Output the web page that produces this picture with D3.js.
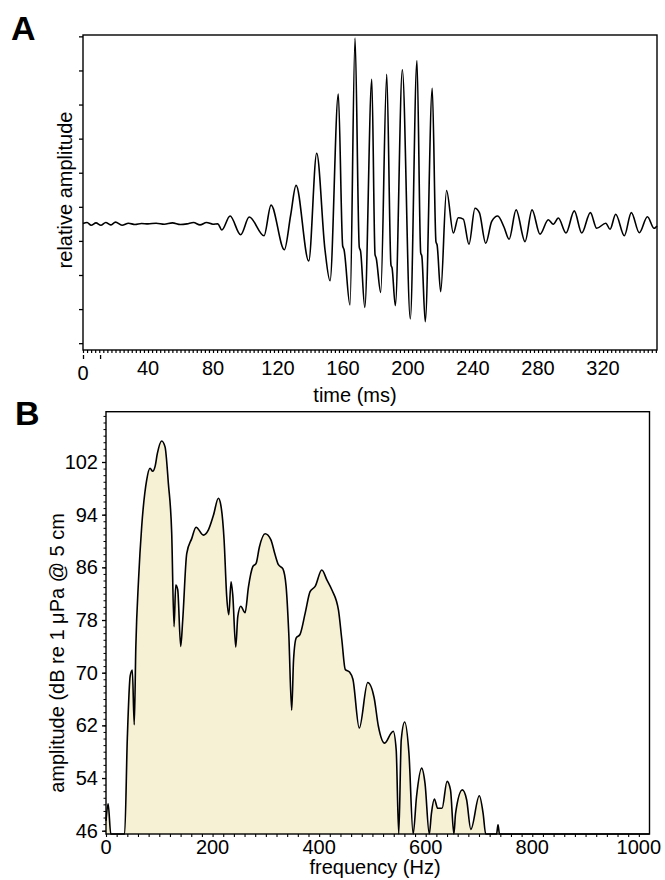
<!DOCTYPE html>
<html>
<head>
<meta charset="utf-8">
<script src="https://d3js.org/d3.v7.min.js"></script>
<style>
  body { margin: 0; background: #fff; }
  svg { display: block; }
  text { font-family: "Liberation Sans", Arial, sans-serif; fill: #000; }
</style>
</head>
<body>
<script>
var w = 665;
var h = 880;

// panel A: waveform, time in ms and relative amplitude
var waveTime = [0, 2.5, 5, 8, 11, 14, 17, 20, 24, 28, 32, 36, 40, 45, 50, 55, 60, 64, 68, 72, 76, 80, 83,
  85.4, 90.5, 97.0, 102.3, 111.4, 115.7, 123.9, 127.8, 131.1, 138.9, 143.8, 148.9, 152.0,
  157.1, 159.8, 160.6, 164.3, 167.4, 170.0, 170.8, 173.4, 177.7, 179.7, 180.4, 183.2,
  186.9, 189.5, 190.2, 192.2, 196.5, 201.4, 205.5, 207.8, 208.5, 210.6, 214.9, 217.2, 217.9, 220.1,
  223.7, 227.9, 230.9, 234.0, 237.5, 241.2, 243.9, 247.8, 251.5, 255.2, 259.1, 262.2, 266.5,
  272.0, 276.3, 281.2, 286.3, 289.4, 292.5, 297.2, 302.3, 306.9, 312.2, 316.1, 321.7, 324.3,
  327.8, 333.1, 337.4, 342.3, 347.3, 351.4, 353.2];
var waveAmp = [0.01, 0.04, -0.04, 0.03, -0.04, 0.04, -0.03, 0.05, -0.04, 0.02, -0.02, 0.01, 0.0, 0.02, -0.01, 0.03, -0.02, 0.0, 0.04, -0.03, 0.04, -0.01, 0.0,
  -0.18, 0.23, -0.32, 0.20, -0.35, 0.55, -0.76, 0.26, 1.13, -1.09, 2.07, -0.76, -1.67,
  3.81, -0.65, -0.75, -2.38, 5.45, -0.68, -0.80, -2.45, 4.24, -0.90, -1.00, -2.01,
  4.39, -1.20, -1.30, -2.40, 4.52, -2.79, 4.79, -0.85, -0.95, -2.87, 3.98, -0.53, -0.62, -1.99,
  0.98, -0.27, 0.18, 0.14, -0.60, 0.46, 0.33, -0.57, 0.07, 0.23, -0.10, -0.45, 0.41,
  -0.52, 0.41, -0.30, 0.12, -0.01, 0.17, -0.27, 0.38, -0.27, 0.33, -0.13, 0.02, -0.16,
  0.28, -0.35, 0.33, -0.26, 0.21, -0.13, -0.06];
var timeTicks = [0, 40, 80, 120, 160, 200, 240, 280, 320];

// panel B: spectrum
var specFreq = [0, 4, 9, 35, 40, 45.4, 49.4, 53, 56, 61, 67, 76.4, 82.6, 87.6, 92, 96.4, 104.5, 110.8,
  117, 123.3, 127.7, 130.9, 134.6, 140.2, 144, 151.5, 161, 169, 182.8, 192.2, 201.6, 210.9,
  215.4, 221.6, 226.6, 230.4, 234.7, 237.9, 243.5, 247.3, 252.9, 261, 267.3, 275.5, 281.7,
  287.9, 298.6, 309.3, 317.4, 323.6, 331.8, 338, 343, 348.5, 352, 357, 364, 373.7, 383,
  392.5, 405, 414.5, 423.8, 436.3, 442.6, 449, 457, 463.4, 475.3, 491.2, 503.2, 511.1, 523,
  535, 539, 544.6, 549.4, 554.1, 560.5, 568.5, 576.4, 582.8, 592.4, 598.7, 606.7, 610.7,
  616.2, 622.6, 630.6, 640.1, 646.5, 652.9, 656, 668.8, 676.8, 684.7, 700.6, 707.8, 712.6,
  733, 735.7, 738.5, 1020];
var specDb = [47.5, 50.1, 45.5, 45.5, 60, 69.5, 70.4, 62.1, 74, 84, 92.2, 99.3, 101.05, 100.6, 101.3, 103.3, 105.2, 104.3,
  98.8, 91.2, 77.0, 83.3, 82.6, 74.0, 78, 88.1, 90.4, 92.1, 90.9, 91.7, 93.9, 96.5,
  95.5, 90.2, 81.5, 78.8, 83.8, 81.8, 73.9, 78.5, 80.1, 79.1, 83.0, 86.1, 86.6,
  89.1, 91.1, 90.2, 87.9, 86.4, 85.8, 83.1, 76, 64.3, 72, 75.3, 75.8, 79, 82.3,
  83.1, 85.6, 84.1, 82.6, 79.5, 75, 70.5, 70.1, 69.0, 61.6, 68.5, 66.2, 61.9, 59.3,
  60.8, 61.1, 58.3, 45.5, 59.8, 62.5, 57.8, 45.5, 51.2, 55.5, 53.2, 45.5, 48.6,
  50.8, 49.4, 49.4, 53.5, 52.2, 45.5, 48.6, 52.2, 50.7, 46.2, 51.3, 48.6, 45.5,
  45.5, 46.9, 45.5, 45.5];
var freqTicks = [0, 200, 400, 600, 800, 1000];
var dbTicks = [46, 54, 62, 70, 78, 86, 94, 102];

var svg = d3.select("body").append("svg")
    .attr("width", w)
    .attr("height", h);

function noDomain(g) { g.select(".domain").remove(); }

// ---------- panel A ----------
var xA = d3.scaleLinear().domain([0, 353.2]).range([83, 657]);
var yA = d3.scaleLinear().domain([-3.7, 5.54]).range([350, 35]);

svg.append("text").attr("x", 11).attr("y", 40)
    .style("font-size", "34px").style("font-weight", "bold").text("A");

svg.append("g").attr("transform", "translate(83,0)")
    .call(d3.axisLeft(yA).tickValues(d3.range(-3.5, 5.6, 1)).tickSize(4).tickFormat(""))
    .call(noDomain)
    .selectAll("line").attr("stroke-width", 1.3);

svg.append("g").attr("transform", "translate(0,350)")
    .call(d3.axisBottom(xA).tickValues(d3.range(0, 353, 2.5)).tickSize(3).tickFormat(""))
    .call(noDomain)
    .selectAll("line").attr("stroke-width", 1.2);

svg.append("g").attr("transform", "translate(0,355)")
    .call(d3.axisBottom(xA).tickValues([0, 10.5]).tickSize(4).tickFormat(""))
    .call(noDomain)
    .selectAll("line").attr("stroke-width", 1.3);

svg.append("rect").attr("x", 83).attr("y", 35).attr("width", 574).attr("height", 315)
    .attr("fill", "none").attr("stroke", "#000").attr("stroke-width", 1.4);

svg.selectAll(".tA").data(timeTicks).enter().append("text")
    .attr("x", function(d) { return xA(d); })
    .attr("y", function(d) { return d === 0 ? 380 : 375; })
    .attr("text-anchor", "middle")
    .style("font-size", "20px")
    .text(function(d) { return d; });

svg.append("text").attr("x", 355).attr("y", 402).attr("text-anchor", "middle")
    .style("font-size", "20px").text("time (ms)");

svg.append("text").attr("transform", "translate(72,190) rotate(-90)")
    .attr("text-anchor", "middle").style("font-size", "20px").text("relative amplitude");

var waveLine = d3.line()
    .x(function(d, i) { return xA(waveTime[i]); })
    .y(function(d) { return yA(d); })
    .curve(d3.curveMonotoneX);

svg.append("path").attr("d", waveLine(waveAmp))
    .attr("fill", "none").attr("stroke", "#000").attr("stroke-width", 1.6)
    .attr("stroke-linejoin", "round");

// ---------- panel B ----------
var xB = d3.scaleLinear().domain([0, 1020]).range([106, 649.5]);
var yB = d3.scaleLinear().domain([45.5, 109.64]).range([834, 411.7]);

svg.append("text").attr("x", 15).attr("y", 425)
    .style("font-size", "34px").style("font-weight", "bold").text("B");

var specArea = d3.area()
    .x(function(d, i) { return xB(specFreq[i]); })
    .y0(yB(45.5))
    .y1(function(d) { return yB(d); })
    .curve(d3.curveMonotoneX);
var specLine = d3.line()
    .x(function(d, i) { return xB(specFreq[i]); })
    .y(function(d) { return yB(d); })
    .curve(d3.curveMonotoneX);

svg.append("path").attr("d", specArea(specDb)).attr("fill", "#f6f0d4");
svg.append("path").attr("d", specLine(specDb))
    .attr("fill", "none").attr("stroke", "#000").attr("stroke-width", 1.6)
    .attr("stroke-linejoin", "round");

svg.append("g").attr("transform", "translate(106,0)")
    .call(d3.axisLeft(yB).tickValues(d3.range(46, 110, 1)).tickSize(2.5).tickFormat(""))
    .call(noDomain)
    .selectAll("line").attr("stroke-width", 1);
svg.append("g").attr("transform", "translate(106,0)")
    .call(d3.axisLeft(yB).tickValues(dbTicks).tickSize(4).tickFormat(""))
    .call(noDomain)
    .selectAll("line").attr("stroke-width", 1.3);

svg.append("g").attr("transform", "translate(0,834)")
    .call(d3.axisBottom(xB).tickValues(d3.range(0, 1020, 20)).tickSize(3).tickFormat(""))
    .call(noDomain)
    .selectAll("line").attr("stroke-width", 1.1);

svg.append("rect").attr("x", 106).attr("y", 411.7).attr("width", 543.5).attr("height", 422.3)
    .attr("fill", "none").attr("stroke", "#000").attr("stroke-width", 1.4);

svg.selectAll(".tBy").data(dbTicks).enter().append("text")
    .attr("x", 98)
    .attr("y", function(d) { return yB(d) + 7; })
    .attr("text-anchor", "end")
    .style("font-size", "20px")
    .text(function(d) { return d; });

svg.selectAll(".tBx").data(freqTicks).enter().append("text")
    .attr("x", function(d) { return xB(d); })
    .attr("y", 854)
    .attr("text-anchor", "middle")
    .style("font-size", "20px")
    .text(function(d) { return d; });

svg.append("text").attr("x", 375).attr("y", 874).attr("text-anchor", "middle")
    .style("font-size", "20px").text("frequency (Hz)");

svg.append("text").attr("transform", "translate(64,653) rotate(-90)")
    .attr("text-anchor", "middle").style("font-size", "20px")
    .text("amplitude (dB re 1 \u03bcPa @ 5 cm");
</script>
</body>
</html>
